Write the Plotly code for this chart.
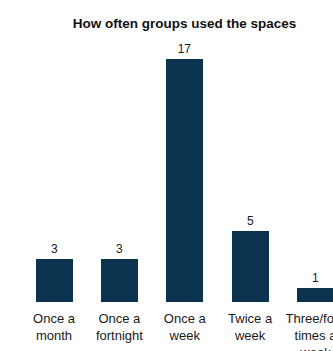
import plotly.graph_objects as go

categories = ["Once a<br>month", "Once a<br>fortnight", "Once a<br>week", "Twice a<br>week", "Three/four<br>times a<br>week"]
values = [3, 3, 17, 5, 1]
title_text = "How often groups used the spaces"
bar_color = "#0b3350"

fig = go.Figure(go.Bar(
    x=categories, y=values,
    marker=dict(color=bar_color, line=dict(width=0)),
    width=0.566,
    text=[str(v) for v in values],
    textposition="outside",
    textfont=dict(family="Liberation Sans, Arial", size=12, color="#1a1a1a"),
    cliponaxis=False,
))

fig.update_layout(
    width=333, height=351,
    margin=dict(l=0, r=0, t=40, b=49, autoexpand=False),
    paper_bgcolor="white", plot_bgcolor="white",
    showlegend=False,
    font=dict(family="Liberation Sans, Arial", color="#1a1a1a"),
    title=dict(text="<b>" + title_text + "</b>", x=184.5/333, xanchor="center",
               y=1 - 23.5/351, yanchor="middle",
               font=dict(family="Liberation Sans, Arial", size=13.5, color="#111111")),
    bargap=0,
)
fig.update_xaxes(range=[-0.826, 4.268], showgrid=False, showline=False, zeroline=False,
                 automargin=False,
                 ticks="", tickfont=dict(size=13, color="#1a1a1a"), ticklabelstandoff=7)
fig.update_yaxes(range=[0, 18.33], showgrid=False, showline=False, zeroline=False,
                 automargin=False,
                 showticklabels=False, ticks="")

fig.write_html("out.html")
